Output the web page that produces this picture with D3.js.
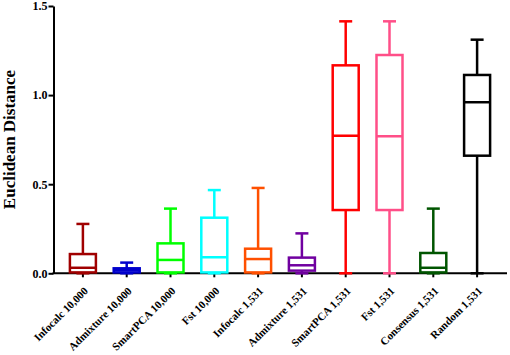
<!DOCTYPE html>
<html><head><meta charset="utf-8">
<script src="https://cdn.jsdelivr.net/npm/d3@7"></script>
<style>body{margin:0;background:#fff}svg{display:block}</style>
</head><body>
<script>
const categories = ["Infocalc 10,000","Admixture 10,000","SmartPCA 10,000","Fst 10,000","Infocalc 1,531","Admixture 1,531","SmartPCA 1,531","Fst 1,531","Consensus 1,531","Random 1,531"];
const mins    = [0,0,0,0,0,0,0,0,0,0];
const q1s     = [0.005,0.005,0.005,0.005,0.005,0.015,0.355,0.355,0.005,0.66];
const medians = [0.031,0.017,0.075,0.09,0.08,0.045,0.772,0.769,0.031,0.96];
const q3s     = [0.108,0.028,0.168,0.312,0.138,0.088,1.167,1.225,0.114,1.113];
const maxs    = [0.277,0.06,0.363,0.467,0.479,0.224,1.414,1.414,0.363,1.311];
const colors  = ["#a00000","#0000cc","#00ff00","#00ffff","#ff5000","#7000a0","#ff0000","#ff4f88","#005500","#000000"];
const yTicks  = [0,0.5,1.0,1.5];

const W=510,H=355;
const svg=d3.select("body").append("svg").attr("width",W).attr("height",H);
const x=d3.scaleBand().domain(categories).range([61,499]).padding(0);
const y=d3.scaleLinear().domain([0,1.5]).range([273.3,6]);
const font="'Liberation Serif','Times New Roman',serif";

// y axis
const ya=svg.append("g").attr("transform","translate(53.5,0)")
  .call(d3.axisLeft(y).tickValues(yTicks).tickFormat(d3.format(".1f")).tickSize(5).tickSizeOuter(0));
ya.select(".domain").attr("stroke","#000").attr("stroke-width",2);
ya.selectAll(".tick line").attr("stroke","#000").attr("stroke-width",2);
ya.selectAll("text").attr("font-family",font).attr("font-weight","bold").attr("font-size",12).attr("fill","#000").attr("x",-6);

// x axis
const xa=svg.append("g").attr("transform","translate(0,273.3)")
  .call(d3.axisBottom(x).tickSize(4).tickSizeOuter(0).tickFormat(""));
xa.select(".domain").attr("d","M52.5,0H507").attr("stroke","#000").attr("stroke-width",2);
xa.selectAll(".tick line").attr("stroke","#000").attr("stroke-width",2);

// rotated category labels
svg.append("g").selectAll("g").data(categories).join("g")
  .attr("transform",d=>`translate(${x(d)+x.bandwidth()/2+3},289) rotate(-45)`)
  .append("text")
  .attr("text-anchor","end").attr("dy","0.35em")
  .attr("font-family",font).attr("font-weight","bold").attr("font-size",11).attr("fill","#000")
  .text(d=>d);

// title
svg.append("text").attr("transform",`translate(15,${(273+6)/2}) rotate(-90)`)
  .attr("text-anchor","middle").attr("font-family",font).attr("font-weight","bold").attr("font-size",17)
  .text("Euclidean Distance");

// boxes
const bw=26, cw=13;
const g=svg.append("g").selectAll("g").data(categories).join("g")
  .attr("transform",d=>`translate(${x(d)+x.bandwidth()/2},0)`)
  .attr("fill","none").attr("stroke-width",2.5).attr("stroke",(d,i)=>colors[i]);
g.append("line").attr("x1",0).attr("x2",0).attr("y1",(d,i)=>y(q3s[i])).attr("y2",(d,i)=>y(maxs[i]));
g.append("line").attr("x1",0).attr("x2",0).attr("y1",(d,i)=>y(q1s[i])).attr("y2",(d,i)=>y(mins[i]));
g.append("line").attr("x1",-cw/2).attr("x2",cw/2).attr("y1",(d,i)=>y(maxs[i])).attr("y2",(d,i)=>y(maxs[i]));
g.append("line").attr("x1",-cw/2).attr("x2",cw/2).attr("y1",(d,i)=>y(mins[i])).attr("y2",(d,i)=>y(mins[i]));
g.append("rect").attr("x",-bw/2).attr("width",bw).attr("y",(d,i)=>y(q3s[i])).attr("height",(d,i)=>y(q1s[i])-y(q3s[i]));
g.append("line").attr("x1",-bw/2).attr("x2",bw/2).attr("y1",(d,i)=>y(medians[i])).attr("y2",(d,i)=>y(medians[i]));
</script>
</body></html>
